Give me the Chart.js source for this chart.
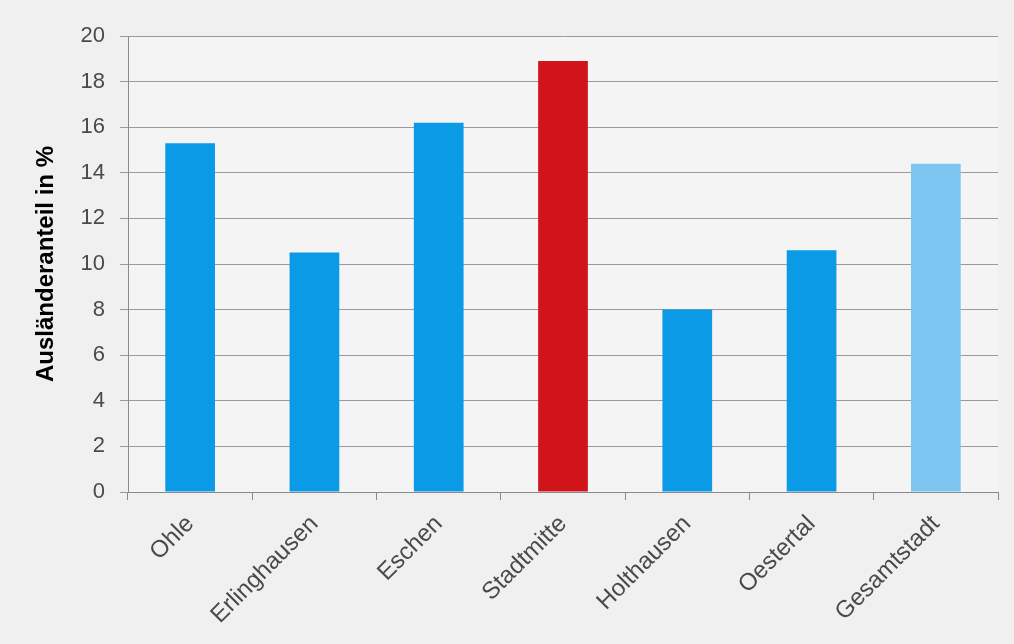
<!DOCTYPE html>
<html>
<head>
<meta charset="utf-8">
<script src="https://cdn.jsdelivr.net/npm/chart.js@4/dist/chart.umd.min.js"></script>
<style>
html,body{margin:0;padding:0;background:#f0f0f0;}
canvas{display:block;}
</style>
</head>
<body>
<canvas id="c" width="1014" height="644"></canvas>
<script>
const categories = ['Ohle','Erlinghausen','Eschen','Stadtmitte','Holthausen','Oestertal','Gesamtstadt'];
const values = [15.3, 10.5, 16.2, 18.9, 8.0, 10.6, 14.4];
const barColors = ['#0a9ae6','#0a9ae6','#0a9ae6','#d0141a','#0a9ae6','#0a9ae6','#7dc6f2'];
const yTicks = [0,2,4,6,8,10,12,14,16,18,20];
const yTitle = 'Ausländeranteil in %';

const bgPlugin = {
  id: 'bg',
  beforeDraw(chart) {
    const ctx = chart.ctx;
    ctx.save();
    ctx.fillStyle = '#f0f0f0';
    ctx.fillRect(0, 0, chart.width, chart.height);
    const a = chart.chartArea;
    ctx.fillStyle = '#f4f4f4';
    ctx.fillRect(a.left, a.top, a.right - a.left, a.bottom - a.top);
    ctx.restore();
  }
};

new Chart(document.getElementById('c'), {
  type: 'bar',
  data: {
    labels: categories,
    datasets: [{
      data: values,
      backgroundColor: barColors,
      borderWidth: 0,
      categoryPercentage: 0.4,
      barPercentage: 1.0
    }]
  },
  options: {
    responsive: false,
    animation: false,
    devicePixelRatio: 1,
    layout: { padding: { left: 0, right: 16, top: 36, bottom: 0 } },
    plugins: { legend: { display: false }, tooltip: { enabled: false }, title: { display: false } },
    scales: {
      y: {
        min: 0, max: 20,
        afterBuildTicks(scale) { scale.ticks = yTicks.map(v => ({ value: v })); },
        afterFit(scale) { scale.width = 128; },
        ticks: {
          font: { family: 'Liberation Sans', size: 22 },
          color: '#4a4a4a',
          padding: 15
        },
        grid: { color: '#9a9a9a', lineWidth: 1, tickLength: 8, drawTicks: true },
        border: { display: true, color: '#8a8a8a', width: 1 },
        title: {
          display: true,
          text: yTitle,
          font: { family: 'Liberation Sans', size: 24, weight: 'bold' },
          color: '#000',
          padding: { top: 32, bottom: 0 }
        }
      },
      x: {
        afterFit(scale) { scale.height = 152; },
        ticks: {
          font: { family: 'Liberation Sans', size: 24 },
          color: '#4a4a4a',
          maxRotation: 45,
          minRotation: 45,
          padding: 10
        },
        grid: { offset: true, drawOnChartArea: false, drawTicks: true, tickLength: 8, color: '#8a8a8a' },
        border: { display: true, color: '#8a8a8a', width: 1 }
      }
    }
  },
  plugins: [bgPlugin]
});
</script>
</body>
</html>
